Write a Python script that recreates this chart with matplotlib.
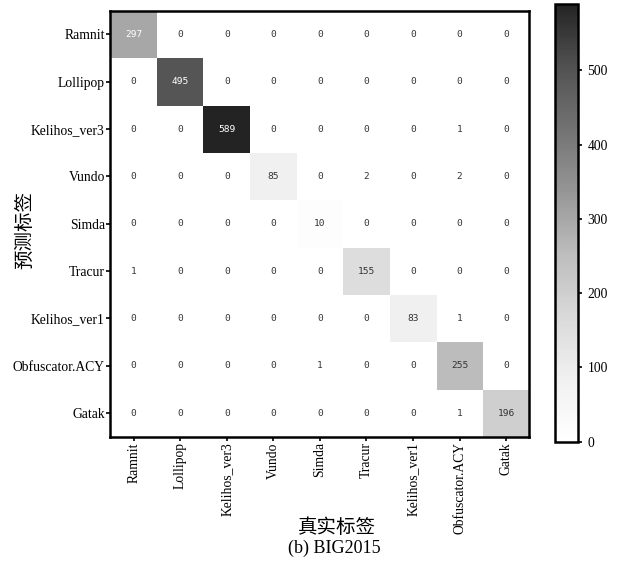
import numpy as np
import matplotlib
import matplotlib.pyplot as plt
from matplotlib.colors import LinearSegmentedColormap

labels = ["Ramnit", "Lollipop", "Kelihos_ver3", "Vundo", "Simda",
          "Tracur", "Kelihos_ver1", "Obfuscator.ACY", "Gatak"]

# rows = predicted label, cols = true label
row_ramnit = [297, 0, 0, 0, 0, 0, 0, 0, 0]
row_lollipop = [0, 495, 0, 0, 0, 0, 0, 0, 0]
row_kelihos3 = [0, 0, 589, 0, 0, 0, 0, 1, 0]
row_vundo = [0, 0, 0, 85, 0, 2, 0, 2, 0]
row_simda = [0, 0, 0, 0, 10, 0, 0, 0, 0]
row_tracur = [1, 0, 0, 0, 0, 155, 0, 0, 0]
row_kelihos1 = [0, 0, 0, 0, 0, 0, 83, 1, 0]
row_obfus = [0, 0, 0, 0, 1, 0, 0, 255, 0]
row_gatak = [0, 0, 0, 0, 0, 0, 0, 1, 196]

cm = np.array([row_ramnit, row_lollipop, row_kelihos3, row_vundo, row_simda,
               row_tracur, row_kelihos1, row_obfus, row_gatak])

greys = matplotlib.colormaps["Greys"]
cmap = LinearSegmentedColormap.from_list("greys_cut", greys(np.linspace(0, 0.875, 256)))

serif = "Liberation Serif"
cjk = "Noto Sans CJK SC"

fig = plt.figure(figsize=(6.2, 5.68), dpi=100)
ax = fig.add_axes([0.178, 0.2312, 0.676, 0.75])
cax = fig.add_axes([0.895, 0.2224, 0.037, 0.77])

im = ax.imshow(cm, cmap=cmap, vmin=0, vmax=cm.max(), aspect="auto")

n = len(labels)
for i in range(n):
    for j in range(n):
        v = cm[i, j]
        ax.text(j, i, str(v), ha="center", va="center", fontsize=6.8,
                family="DejaVu Sans Mono",
                color="white" if v > 280 else "#333333")

ax.set_xticks(range(n))
ax.set_yticks(range(n))
ax.set_xticklabels(labels, rotation=90, family=serif, fontsize=9.8)
ax.set_yticklabels(labels, family=serif, fontsize=9.8)
ax.tick_params(length=3, width=1.2, pad=1)
for s in ax.spines.values():
    s.set_linewidth(1.8)

cb = fig.colorbar(im, cax=cax)
cb.set_ticks([0, 100, 200, 300, 400, 500])
cb.outline.set_linewidth(1.8)
cax.tick_params(length=3, width=1.2, pad=4)
for t in cax.get_yticklabels():
    t.set_family(serif)
    t.set_fontsize(9.8)

fig.text(0.04, 0.595, "预测标签", rotation=90, ha="center", va="center",
         family=cjk, fontsize=14)
fig.text(0.544, 0.072, "真实标签", ha="center", va="center",
         family=cjk, fontsize=14)
fig.text(0.54, 0.034, "(b) BIG2015", ha="center", va="center",
         family=serif, fontsize=13)

fig.savefig("out.png", dpi=100)
